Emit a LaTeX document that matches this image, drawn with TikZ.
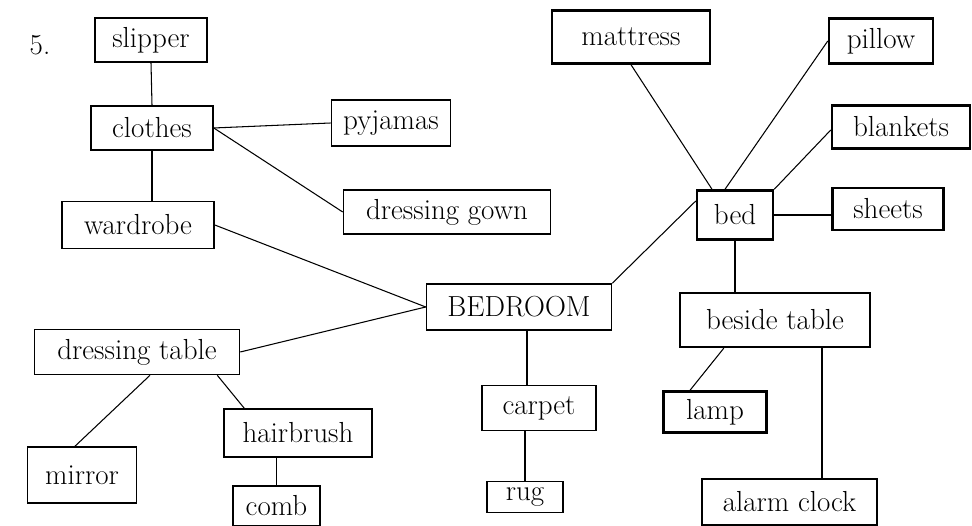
\documentclass[tikz,border=0pt]{standalone}
\usepackage{tikz}
\usetikzlibrary{positioning}

\begin{document}
\begin{tikzpicture}[
    box/.style={draw, line width=0.9pt, inner sep=0pt, minimum height=0.88cm,
        font=\fontsize{16.5}{19}\selectfont},
    heavybox/.style={box, line width=1.4pt},
    link/.style={line width=0.6pt}
]
                \useasboundingbox (0,0) rectangle (19.44,10.52);

                % Number
                \node[font=\fontsize{16.5}{19}\selectfont] (num) at (0.8,9.62) {5.};

                % Centre
                \node[box, minimum width=3.7cm, minimum height=0.92cm] (bedroom) at (10.38,4.38) {BEDROOM};

                % Clothes (top left)
                \node[box, minimum width=2.24cm] (slipper) at (3.02,9.72) {slipper};
                \node[box, minimum width=2.44cm] (clothes) at (3.04,7.96) {clothes};
                \node[box, minimum width=2.38cm, minimum height=0.92cm] (pyjamas) at (7.82,8.06) {pyjamas};
                \node[box, minimum width=4.14cm] (gown) at (8.94,6.28) {dressing gown};
                \node[box, minimum width=3.04cm, minimum height=0.94cm] (wardrobe) at (2.76,6.02) {wardrobe};

                % Dressing table (bottom left)
                \node[box, minimum width=4.1cm, minimum height=0.9cm] (dtable) at (2.74,3.48) {dressing table};
                \node[box, minimum width=2.18cm, minimum height=1.12cm] (mirror) at (1.64,1.02) {mirror};
                \node[box, minimum width=2.96cm, minimum height=0.96cm] (hairbrush) at (5.96,1.86) {hairbrush};
                \node[box, minimum width=1.74cm, minimum height=0.8cm] (comb) at (5.53,0.4) {comb};

                % Floor
                \node[box, minimum width=2.28cm, minimum height=0.9cm] (carpet) at (10.78,2.36) {carpet};
                \node[box, minimum width=1.52cm, minimum height=0.62cm] (rug) at (10.5,0.58) {rug};

                % Bed (right)
                \node[heavybox, minimum width=1.52cm, minimum height=0.98cm] (bed) at (14.7,6.22) {bed};
                \node[heavybox, minimum width=3.16cm, minimum height=1.06cm] (mattress) at (12.62,9.78) {mattress};
                \node[heavybox, minimum width=2.08cm, minimum height=0.9cm] (pillow) at (17.62,9.7) {pillow};
                \node[heavybox, minimum width=2.76cm, minimum height=0.86cm] (blankets) at (18.02,7.98) {blankets};
                \node[heavybox, minimum width=2.22cm, minimum height=0.84cm] (sheets) at (17.76,6.34) {sheets};
                \node[heavybox, minimum width=3.8cm, minimum height=1.08cm] (btable) at (15.5,4.12) {beside table};
                \node[heavybox, minimum width=2.06cm, minimum height=0.82cm] (lamp) at (14.3,2.28) {lamp};
                \node[heavybox, minimum width=3.5cm, minimum height=0.92cm] (clock) at (15.79,0.48) {alarm clock};

                % Links, left
                \draw[link] (slipper.south) -- (clothes.north);
                \draw[link] (clothes.east) -- (pyjamas.west);
                \draw[link] (clothes.east) -- (gown.west);
                \draw[link] (clothes.south) -- (clothes.south |- wardrobe.north);
                \draw[link] (wardrobe.east) -- (bedroom.west);
                \draw[link] (dtable.east) -- (bedroom.west);
                \draw[link] ([xshift=0.26cm]dtable.south) -- ([xshift=-0.14cm]mirror.north);
                \draw[link] ([xshift=-0.46cm]dtable.south east) -- ([xshift=0.42cm]hairbrush.north west);
                \draw[link] (comb.north) -- (comb.north |- hairbrush.south);

                % Links, middle
                \draw[link] ([xshift=0.16cm]bedroom.south) -- ([xshift=0.16cm]bedroom.south |- carpet.north);
                \draw[link] (rug.north) -- (rug.north |- carpet.south);
                \draw[link] (bedroom.north east) -- ([yshift=0.28cm]bed.west);

                % Links, right
                \draw[link] (mattress.south) -- ([xshift=-0.46cm]bed.north);
                \draw[link] ([xshift=-0.2cm]bed.north) -- (pillow.west);
                \draw[link] (bed.north east) -- ([yshift=-0.06cm]blankets.west);
                \draw[link] (bed.east) -- (bed.east -| sheets.west);
                \draw[link] (bed.south) -- (bed.south |- btable.north);
                \draw[link] ([xshift=0.9cm]btable.south west) -- ([xshift=-0.5cm]lamp.north);
                \draw[link] ([xshift=0.94cm]btable.south) -- ([xshift=0.94cm]btable.south |- clock.north);
            \end{tikzpicture}
\end{document}
